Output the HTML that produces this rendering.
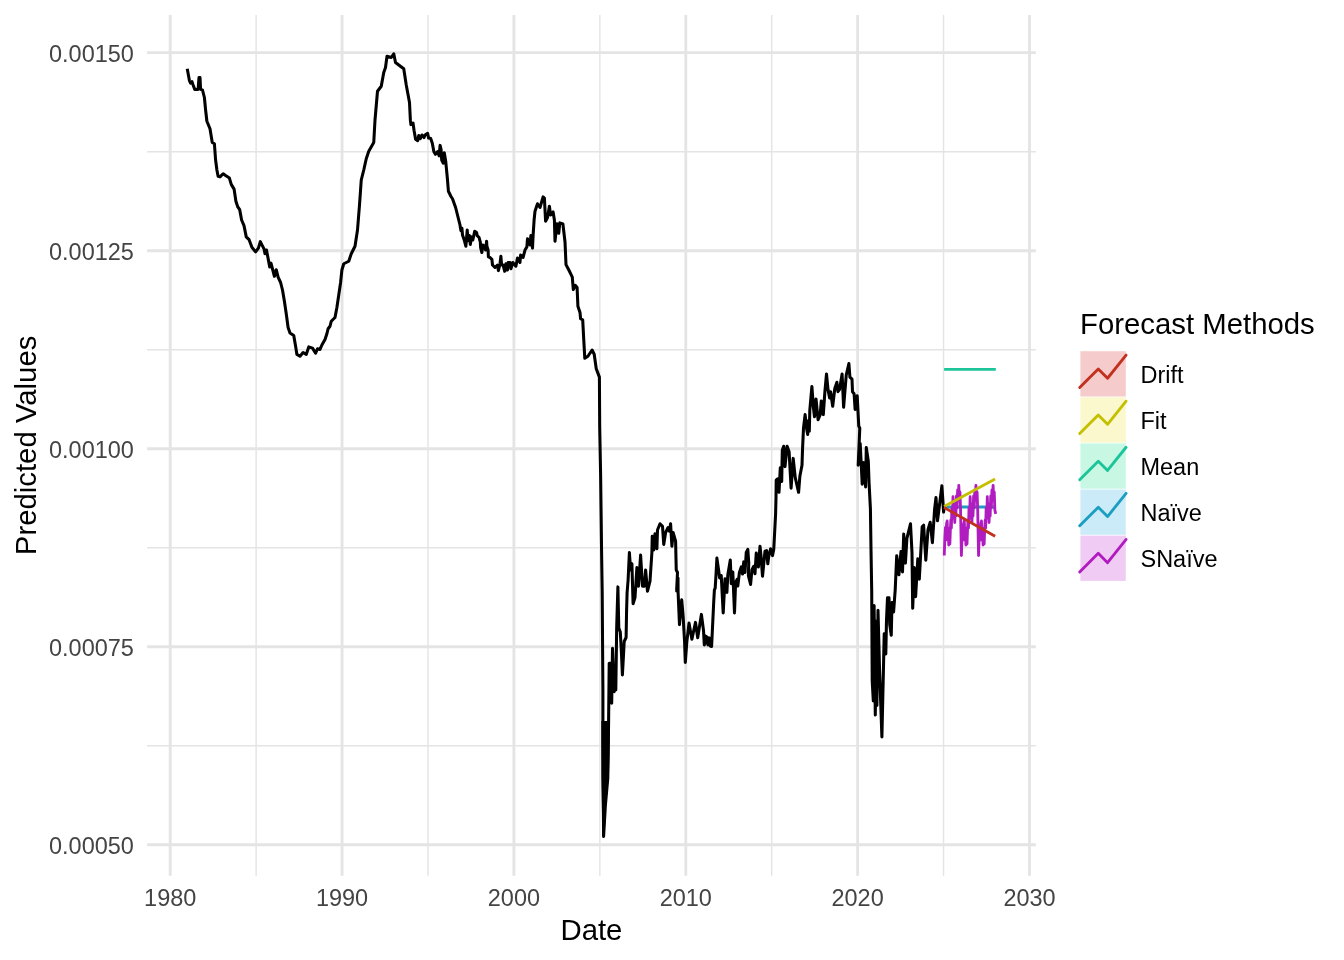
<!DOCTYPE html><html><head><meta charset="utf-8"><style>html,body{margin:0;padding:0;background:#fff;}svg{display:block;will-change:transform;}text{font-family:"Liberation Sans",sans-serif;}</style></head><body>
<svg width="1344" height="960" viewBox="0 0 1344 960">
<rect width="1344" height="960" fill="#fff"/>
<g stroke="#E4E4E4" stroke-width="1.42"><line x1="147.1" y1="151.71" x2="1035.8" y2="151.71"/><line x1="147.1" y1="349.72" x2="1035.8" y2="349.72"/><line x1="147.1" y1="547.73" x2="1035.8" y2="547.73"/><line x1="147.1" y1="745.74" x2="1035.8" y2="745.74"/><line x1="256.13" y1="15.0" x2="256.13" y2="875.8"/><line x1="427.99" y1="15.0" x2="427.99" y2="875.8"/><line x1="599.85" y1="15.0" x2="599.85" y2="875.8"/><line x1="771.71" y1="15.0" x2="771.71" y2="875.8"/><line x1="943.57" y1="15.0" x2="943.57" y2="875.8"/></g>
<g stroke="#E4E4E4" stroke-width="2.84"><line x1="147.1" y1="52.70" x2="1035.8" y2="52.70"/><line x1="147.1" y1="250.71" x2="1035.8" y2="250.71"/><line x1="147.1" y1="448.72" x2="1035.8" y2="448.72"/><line x1="147.1" y1="646.73" x2="1035.8" y2="646.73"/><line x1="147.1" y1="844.74" x2="1035.8" y2="844.74"/><line x1="170.20" y1="15.0" x2="170.20" y2="875.8"/><line x1="342.06" y1="15.0" x2="342.06" y2="875.8"/><line x1="513.92" y1="15.0" x2="513.92" y2="875.8"/><line x1="685.78" y1="15.0" x2="685.78" y2="875.8"/><line x1="857.64" y1="15.0" x2="857.64" y2="875.8"/><line x1="1029.50" y1="15.0" x2="1029.50" y2="875.8"/></g>
<g font-size="23.47" fill="#444444"><text x="133.9" y="62.00" text-anchor="end">0.00150</text><text x="133.9" y="260.01" text-anchor="end">0.00125</text><text x="133.9" y="458.02" text-anchor="end">0.00100</text><text x="133.9" y="656.03" text-anchor="end">0.00075</text><text x="133.9" y="854.04" text-anchor="end">0.00050</text><text x="170.20" y="906.1" text-anchor="middle">1980</text><text x="342.06" y="906.1" text-anchor="middle">1990</text><text x="513.92" y="906.1" text-anchor="middle">2000</text><text x="685.78" y="906.1" text-anchor="middle">2010</text><text x="857.64" y="906.1" text-anchor="middle">2020</text><text x="1029.50" y="906.1" text-anchor="middle">2030</text></g>
<text x="591.45" y="939.8" text-anchor="middle" font-size="29.33" fill="#000">Date</text>
<text transform="translate(35.7 445.4) rotate(-90)" x="0" y="0" text-anchor="middle" font-size="29.33" fill="#000">Predicted Values</text>
<polyline points="187.25,68.75 189.40,80.60 190.60,83.10 191.90,81.50 193.10,85.00 194.75,89.40 198.10,89.40 199.00,77.50 200.00,77.50 200.60,89.40 202.50,90.00 204.40,97.50 205.60,110.00 206.90,121.25 210.00,128.75 212.25,142.50 214.40,143.75 215.60,160.00 216.90,170.00 218.10,176.25 220.00,176.90 223.10,173.75 225.60,175.60 229.40,178.10 231.25,184.40 234.10,189.10 235.90,201.25 237.80,206.90 239.70,209.70 241.60,220.00 244.00,225.60 246.25,236.90 249.10,239.70 251.90,247.20 255.60,251.90 258.40,248.10 260.30,241.60 264.10,249.10 265.00,253.75 266.50,250.00 269.70,266.90 271.00,263.10 274.40,276.25 276.25,269.70 278.10,277.20 280.60,282.50 282.50,290.00 284.40,301.25 286.25,313.75 288.10,327.50 290.00,333.10 293.75,335.60 295.60,346.25 296.90,354.40 300.00,356.25 303.10,352.50 306.25,354.40 308.75,346.90 312.50,348.10 315.60,353.10 317.50,348.75 320.00,349.40 321.90,345.00 325.00,339.40 326.90,333.75 328.10,328.75 330.00,326.25 331.25,321.25 335.00,317.50 336.90,307.50 338.75,295.00 340.60,282.50 341.90,270.00 343.75,263.75 348.75,261.25 351.25,253.75 355.00,246.25 357.50,230.00 359.50,205.00 361.25,180.00 363.75,170.00 366.25,158.75 368.75,151.25 373.75,142.50 375.00,120.00 377.50,91.25 381.25,86.25 383.75,72.50 385.50,67.50 387.00,56.25 391.25,57.50 393.75,53.75 395.50,62.50 398.75,65.00 403.75,68.75 406.25,85.00 409.50,102.50 410.40,120.40 410.90,124.60 413.00,123.00 414.10,130.80 415.60,139.20 417.70,140.70 418.75,135.50 420.30,138.60 421.90,135.00 424.00,137.60 425.00,135.00 427.60,133.40 428.60,138.10 430.70,138.60 432.30,143.30 433.90,151.70 435.40,154.30 437.50,151.70 439.10,155.80 440.10,145.40 441.10,149.60 441.70,160.00 443.20,163.10 444.30,152.70 445.80,162.10 446.40,168.30 447.40,178.75 448.40,191.25 451.00,196.50 452.50,198.75 455.60,207.50 458.75,220.00 460.00,225.00 460.90,230.60 461.90,228.10 462.50,235.00 464.40,240.60 465.90,246.25 467.20,230.00 468.10,240.60 469.40,235.60 470.30,244.40 471.60,236.90 472.80,240.00 474.70,231.25 476.60,232.50 477.20,235.60 479.10,237.50 479.70,240.00 480.30,241.90 480.60,247.50 481.90,252.50 482.80,245.00 484.40,246.25 485.60,250.00 486.60,241.25 486.90,246.25 488.10,250.00 488.40,256.90 490.00,257.50 491.90,259.40 492.50,265.00 495.00,267.50 497.50,265.00 498.40,270.60 500.00,263.75 500.90,256.25 501.60,265.00 503.10,265.00 504.70,271.25 505.90,263.75 507.50,270.00 508.10,262.50 510.00,262.50 510.90,268.75 512.80,262.50 515.90,266.25 517.50,258.10 520.00,262.50 520.60,255.00 523.10,257.50 525.00,250.00 526.90,246.90 527.50,238.75 530.00,245.00 530.90,235.60 532.50,248.10 533.10,235.60 534.10,220.00 535.00,211.25 537.50,203.75 540.00,207.50 543.10,196.90 544.40,198.10 545.60,221.25 547.50,217.50 549.40,206.25 550.60,215.00 553.10,211.90 554.40,220.00 555.00,241.25 556.90,223.75 558.75,233.30 559.80,222.90 562.90,224.00 565.00,241.70 566.00,264.60 569.20,270.80 572.30,277.10 573.30,289.60 575.40,285.40 577.10,287.50 577.90,306.25 580.00,312.50 580.60,318.75 582.70,319.80 583.75,339.60 584.80,358.30 587.90,356.25 592.10,350.00 594.20,354.20 596.25,368.75 599.40,377.10 599.70,426.90 600.60,473.75 601.70,560.00 602.20,593.00 602.90,690.00 602.90,740.00 603.60,836.50 605.40,805.00 607.80,778.00 608.60,722.00 609.20,663.30 610.80,663.30 611.70,703.30 612.50,648.30 614.20,691.70 615.00,668.30 615.80,690.00 616.70,626.70 617.90,586.90 618.80,628.00 620.30,632.00 621.40,652.00 622.40,675.00 623.50,655.00 624.20,641.50 626.10,637.50 626.60,610.00 627.10,592.50 628.10,580.00 629.40,552.50 630.60,570.00 631.90,563.75 633.10,603.75 635.00,597.50 636.90,567.50 638.50,586.25 640.60,555.00 642.50,586.25 644.40,586.25 645.60,570.00 647.50,591.25 650.00,581.25 651.90,552.50 652.25,536.25 653.75,550.00 655.00,533.75 656.90,548.75 657.50,530.00 660.00,523.75 662.50,526.25 663.75,544.40 665.60,532.50 668.10,527.50 669.40,531.25 670.60,523.75 671.90,546.25 673.10,532.50 675.60,541.25 676.25,570.00 677.50,572.50 676.60,591.00 678.00,578.00 678.10,592.50 679.50,624.60 680.90,607.10 681.70,599.80 683.10,615.80 684.60,642.10 685.30,662.50 686.80,642.10 689.00,623.10 691.90,639.20 695.50,622.40 697.70,637.70 701.40,614.40 703.50,630.40 704.30,645.00 705.50,636.00 706.40,643.00 707.20,637.00 708.00,645.00 709.50,638.00 710.30,646.00 711.60,646.50 713.75,601.25 714.40,590.00 715.20,588.10 716.00,575.00 716.90,558.10 718.75,571.25 719.60,577.90 721.25,575.60 723.20,612.90 725.00,578.75 726.10,579.40 726.90,592.50 727.80,575.00 730.30,560.00 731.25,583.75 732.80,571.90 734.50,612.90 735.60,582.50 737.10,579.40 737.80,586.00 739.40,572.50 741.25,566.90 742.50,574.00 743.75,561.90 745.00,572.50 746.25,552.50 747.80,549.40 748.75,562.50 748.40,575.60 750.60,584.40 751.90,570.00 753.75,566.25 755.00,573.75 756.25,553.10 758.40,566.90 760.00,546.25 761.00,556.00 762.50,576.25 765.00,551.25 766.60,550.60 767.80,563.75 768.80,556.00 770.60,548.75 772.50,555.60 773.75,549.40 774.20,541.00 775.60,514.00 776.00,497.70 776.20,480.10 777.60,478.75 779.00,492.30 780.30,467.90 781.70,481.50 782.30,450.30 783.70,446.25 785.00,466.60 787.10,446.25 789.10,451.70 791.10,488.20 793.20,458.40 795.20,477.40 798.60,492.30 799.90,476.00 802.00,465.20 802.50,450.00 803.50,428.10 805.10,414.60 806.70,429.20 807.70,434.40 808.20,420.80 809.30,431.25 809.80,410.40 811.90,386.50 813.40,407.30 814.50,416.70 816.00,399.00 818.10,419.80 820.20,414.60 821.25,401.00 823.30,414.60 824.90,391.70 826.50,374.00 828.00,389.60 829.60,397.90 830.60,391.70 832.70,406.25 834.80,388.50 836.90,382.30 837.90,391.70 839.50,389.60 842.10,374.00 843.60,407.30 846.25,375.00 848.90,363.50 849.90,377.10 852.00,379.20 852.50,391.70 854.10,393.75 855.10,409.40 857.20,395.80 858.75,426.00 859.80,428.10 858.20,465.20 860.20,443.50 862.20,484.20 863.60,462.50 865.60,486.90 866.30,447.60 868.30,461.10 869.00,481.50 870.40,508.50 871.00,549.20 871.70,590.00 872.20,680.60 873.30,701.00 874.10,605.60 875.30,715.00 876.40,621.00 876.90,705.60 878.00,610.30 879.50,668.00 881.90,736.90 883.40,671.25 884.20,633.75 885.80,654.00 886.50,620.00 887.50,597.80 889.00,597.80 889.70,624.40 891.25,635.30 892.00,602.50 893.60,611.90 895.20,590.00 896.70,555.80 898.90,574.80 901.00,551.50 902.50,571.90 903.70,534.00 905.40,563.10 906.90,538.30 910.50,523.75 912.00,552.90 912.70,608.30 914.20,567.50 915.60,596.70 917.80,558.75 919.30,579.20 922.20,526.70 923.60,525.20 925.80,560.20 928.00,529.60 930.20,522.30 932.40,542.70 934.60,509.20 936.00,497.50 937.50,520.80 939.70,503.30 941.90,485.80 943.60,512.10 944.10,507.00" fill="none" stroke="#000" stroke-width="3.05" stroke-linejoin="round" stroke-linecap="butt"/>
<polygon points="601.4,721 610.0,721 609.5,755 608.9,777.5 607.0,790 606.2,800 604.6,836 602.4,836 601.6,790 601.4,777.5" fill="#000"/>
<line x1="944.1" y1="369.35" x2="995.8" y2="369.35" stroke="#1CC49A" stroke-width="2.84"/>
<line x1="944.1" y1="507.0" x2="995.8" y2="507.0" stroke="#1B9EC0" stroke-width="2.84"/>
<polyline points="944.25,555.50 944.85,538.00 945.45,527.50 945.95,540.00 946.55,524.00 947.15,521.00 947.65,536.00 948.15,528.00 948.75,545.00 949.25,532.00 949.85,544.00 950.35,530.00 950.85,520.00 951.35,528.00 951.85,508.00 952.45,518.00 953.00,496.70 953.55,512.00 954.15,504.00 954.75,522.50 955.35,506.00 955.85,516.00 956.45,496.00 957.05,508.00 957.65,490.00 958.25,500.00 958.80,485.30 959.35,500.00 959.95,492.00 960.55,510.00 961.40,555.50 962.00,538.00 962.60,527.50 963.10,540.00 963.70,524.00 964.30,521.00 964.80,536.00 965.30,528.00 965.90,545.00 966.40,532.00 967.00,544.00 967.50,530.00 968.00,520.00 968.50,528.00 969.00,508.00 969.60,518.00 970.15,496.70 970.70,512.00 971.30,504.00 971.90,522.50 972.50,506.00 973.00,516.00 973.60,496.00 974.20,508.00 974.80,490.00 975.40,500.00 975.95,485.30 976.50,500.00 977.10,492.00 977.70,510.00 978.55,555.50 979.15,538.00 979.75,527.50 980.25,540.00 980.85,524.00 981.45,521.00 981.95,536.00 982.45,528.00 983.05,545.00 983.55,532.00 984.15,544.00 984.65,530.00 985.15,520.00 985.65,528.00 986.15,508.00 986.75,518.00 987.30,496.70 987.85,512.00 988.45,504.00 989.05,522.50 989.65,506.00 990.15,516.00 990.75,496.00 991.35,508.00 991.95,490.00 992.55,500.00 993.10,485.30 993.65,500.00 994.25,492.00 994.85,510.00 995.70,513.90" fill="none" stroke="#B01CC0" stroke-width="2.84" stroke-linejoin="round"/>
<line x1="944.1" y1="506.6" x2="995.1" y2="478.9" stroke="#C4C000" stroke-width="2.84" stroke-linecap="butt"/>
<line x1="944.1" y1="507.6" x2="995.1" y2="536.2" stroke="#C2301F" stroke-width="2.84" stroke-linecap="butt"/>
<text x="1080" y="333.6" font-size="29.33" fill="#000">Forecast Methods</text>
<rect x="1080.4" y="351.20" width="45.4" height="45.3" fill="#F5CCCB"/>
<polyline points="1079.70,387.52 1098.26,368.96 1107.54,378.24 1126.10,355.04" fill="none" stroke="#C2301F" stroke-width="2.84" stroke-linejoin="round" stroke-linecap="round"/>
<text x="1140.5" y="382.60" font-size="23.47" fill="#000">Drift</text>
<rect x="1080.4" y="397.30" width="45.4" height="45.3" fill="#FAF8CC"/>
<polyline points="1079.70,433.62 1098.26,415.06 1107.54,424.34 1126.10,401.14" fill="none" stroke="#C4C000" stroke-width="2.84" stroke-linejoin="round" stroke-linecap="round"/>
<text x="1140.5" y="428.70" font-size="23.47" fill="#000">Fit</text>
<rect x="1080.4" y="443.40" width="45.4" height="45.3" fill="#C8F8E4"/>
<polyline points="1079.70,479.72 1098.26,461.16 1107.54,470.44 1126.10,447.24" fill="none" stroke="#1CC49A" stroke-width="2.84" stroke-linejoin="round" stroke-linecap="round"/>
<text x="1140.5" y="474.80" font-size="23.47" fill="#000">Mean</text>
<rect x="1080.4" y="489.50" width="45.4" height="45.3" fill="#CCEBF8"/>
<polyline points="1079.70,525.82 1098.26,507.26 1107.54,516.54 1126.10,493.34" fill="none" stroke="#1B9EC0" stroke-width="2.84" stroke-linejoin="round" stroke-linecap="round"/>
<text x="1140.5" y="520.90" font-size="23.47" fill="#000">Naïve</text>
<rect x="1080.4" y="535.60" width="45.4" height="45.3" fill="#F0CCF5"/>
<polyline points="1079.70,571.92 1098.26,553.36 1107.54,562.64 1126.10,539.44" fill="none" stroke="#B01CC0" stroke-width="2.84" stroke-linejoin="round" stroke-linecap="round"/>
<text x="1140.5" y="567.00" font-size="23.47" fill="#000">SNaïve</text>
</svg></body></html>
